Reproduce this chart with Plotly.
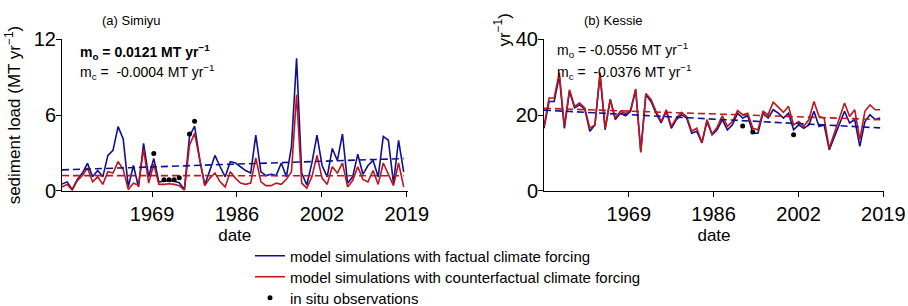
import plotly.graph_objects as go

# ---------------- data ----------------
years_simiyu = list(range(1951, 2019))   # 68 annual values
years_kessie = list(range(1952, 2019))   # 67 annual values

simiyu_factual = [0.53, 0.7, 0.1, 0.9, 1.4, 2.17, 1.1, 1.6, 1.1, 2.8,
                  3.2, 5.08, 4.1, 0.3, 2.0, 0.3, 3.75, 1.1, 2.55, 0.7,
                  0.75, 0.8, 0.75, 0.63, 0.1, 4.3, 5.13, 2.5, 0.45, 1.6,
                  2.8, 1.9, 1.1, 2.3, 2.2, 1.9, 1.6, 1.4, 4.4, 1.5,
                  1.2, 1.3, 1.2, 2.2, 1.1, 3.5, 10.5, 1.4, 0.45, 2.2,
                  4.4, 2.0, 1.1, 3.35, 2.4, 4.5, 0.6, 1.1, 2.9, 1.3,
                  2.0, 2.4, 1.1, 4.3, 4.0, 0.6, 4.0, 1.5]
simiyu_counterfactual = [0.3, 0.5, 0.05, 0.8, 1.2, 1.8, 0.7, 1.1, 0.5, 1.5,
                         1.4, 2.3, 1.7, 0.1, 0.6, 0.45, 3.3, 0.6, 2.1, 0.5,
                         0.5, 0.55, 0.5, 0.4, 0.05, 3.6, 4.55, 2.4, 0.4, 1.0,
                         1.4, 0.7, 0.3, 1.5, 1.0, 0.6, 0.5, 0.6, 2.6, 0.7,
                         0.4, 0.4, 0.6, 0.5, 0.9, 1.5, 7.6, 0.6, 0.2, 1.1,
                         2.8, 1.0, 0.5, 1.9, 1.4, 2.2, 0.3, 0.8, 1.9, 0.9,
                         0.7, 1.6, 0.5, 2.2, 1.3, 0.4, 2.2, 0.3]
simiyu_obs_years = [1969, 1971, 1972, 1973, 1974, 1976, 1977]
simiyu_obs = [2.95, 0.87, 0.87, 0.87, 1.03, 4.5, 5.5]
simiyu_trend_years = [1951, 2018]
simiyu_trend_factual = [1.65, 2.55]
simiyu_trend_counterfactual = [1.2, 1.18]

kessie_factual = [16.5, 23.6, 23.6, 30.3, 16.5, 26.3, 21.9, 22.7, 21.6, 15.7,
                  17.4, 30.7, 16.1, 24.1, 18.8, 20.5, 19.8, 21.0, 26.7, 10.4,
                  25.4, 23.6, 20.5, 17.9, 21.0, 16.5, 18.8, 20.1, 19.2, 15.2,
                  15.7, 12.6, 18.3, 14.8, 16.1, 18.8, 16.1, 17.4, 20.5, 19.2,
                  19.8, 15.2, 15.2, 20.5, 19.2, 21.4, 20.5, 19.2, 20.5, 16.1,
                  17.4, 16.5, 17.4, 21.0, 17.0, 17.4, 10.8, 14.3, 17.4, 21.0,
                  17.9, 18.8, 11.7, 18.3, 20.1, 18.8, 19.2]
kessie_counterfactual = [17.0, 24.5, 24.5, 31.2, 17.0, 26.7, 22.3, 23.2, 21.9, 16.5,
                         17.4, 31.2, 16.5, 24.2, 19.2, 21.0, 20.4, 21.4, 26.9, 10.1,
                         25.7, 24.1, 21.0, 18.3, 21.4, 17.0, 19.2, 20.7, 19.6, 15.7,
                         16.5, 12.7, 18.8, 15.0, 16.8, 19.8, 17.0, 18.3, 21.2, 20.1,
                         20.5, 16.5, 16.1, 21.0, 20.1, 23.4, 22.1, 20.7, 22.3, 17.4,
                         18.3, 17.0, 18.8, 23.6, 19.6, 19.2, 11.2, 15.2, 19.2, 23.2,
                         19.6, 21.4, 13.5, 21.0, 22.7, 21.4, 21.4]
kessie_obs_years = [1991, 1993, 2001]
kessie_obs = [17.1, 15.5, 14.8]
kessie_trend_years = [1952, 2018]
kessie_trend_factual = [21.3, 16.6]
kessie_trend_counterfactual = [21.8, 18.8]

tick_positions = [1968.65, 1985.3, 2001.98, 2018.62]
tick_labels = ["1969", "1986", "2002", "2019"]
simiyu_yticks = [0, 6, 12]
kessie_yticks = [0, 20, 40]

legend_names = ["model simulations with factual climate forcing",
                "model simulations with counterfactual climate forcing",
                "in situ observations"]

# ---------------- style ----------------
W, H = 908, 306
BLUE = "#10108f"
RED = "#c0141c"
FONT = "Liberation Sans, Arial, sans-serif"


def px(x):
    return x / W


def py(y):
    return 1 - y / H


fig = go.Figure()

panels = [
    ("x", "y", years_simiyu, simiyu_factual, simiyu_counterfactual,
     simiyu_obs_years, simiyu_obs, simiyu_trend_years,
     simiyu_trend_factual, simiyu_trend_counterfactual, True),
    ("x2", "y2", years_kessie, kessie_factual, kessie_counterfactual,
     kessie_obs_years, kessie_obs, kessie_trend_years,
     kessie_trend_factual, kessie_trend_counterfactual, False),
]

for (xa, ya, yrs, fac, cf, oy, ov, ty, tf, tc, show) in panels:
    fig.add_trace(go.Scatter(x=yrs, y=fac, mode="lines", xaxis=xa, yaxis=ya,
                             line=dict(color=BLUE, width=1.6),
                             name=legend_names[0], showlegend=show,
                             legend="legend"))
    fig.add_trace(go.Scatter(x=yrs, y=cf, mode="lines", xaxis=xa, yaxis=ya,
                             line=dict(color=RED, width=1.6),
                             name=legend_names[1], showlegend=show,
                             legend="legend2"))
    fig.add_trace(go.Scatter(x=ty, y=tf, mode="lines", xaxis=xa, yaxis=ya,
                             line=dict(color=BLUE, width=1.6, dash="7px,4px"),
                             showlegend=False, hoverinfo="skip"))
    fig.add_trace(go.Scatter(x=ty, y=tc, mode="lines", xaxis=xa, yaxis=ya,
                             line=dict(color=RED, width=1.6, dash="7px,4px"),
                             showlegend=False, hoverinfo="skip"))
    fig.add_trace(go.Scatter(x=oy, y=ov, mode="markers", xaxis=xa, yaxis=ya,
                             marker=dict(color="black", size=5),
                             name=legend_names[2], showlegend=show,
                             legend="legend3"))

axis_common = dict(showline=True, linecolor="black", linewidth=1,
                   ticks="outside", ticklen=5, tickwidth=1, tickcolor="black",
                   showgrid=False, zeroline=False, automargin=False,
                   tickfont=dict(size=20, color="black", family=FONT))

legend_common = dict(x=px(250), xanchor="left", yanchor="middle",
                     bgcolor="rgba(0,0,0,0)",
                     font=dict(size=15, color="black", family=FONT))

fig.update_layout(
    width=W, height=H,
    margin=dict(l=0, r=0, t=0, b=0, autoexpand=False),
    paper_bgcolor="white", plot_bgcolor="white",
    font=dict(family=FONT, color="black"),
    xaxis=dict(domain=[px(62), px(407.5)], range=[1951, 2018.75],
               tickvals=tick_positions, ticktext=tick_labels,
               title=dict(text="date", font=dict(size=17), standoff=5),
               anchor="y", **axis_common),
    yaxis=dict(domain=[py(190.7), py(39.4)], range=[0, 12],
               tickvals=simiyu_yticks, ticklabelstandoff=-4,
               title=dict(text="sediment load (MT yr<sup>−1</sup>)",
                          font=dict(size=17), standoff=8),
               anchor="x", **axis_common),
    xaxis2=dict(domain=[px(544), px(884)], range=[1952, 2018.75],
                tickvals=tick_positions, ticktext=tick_labels,
                title=dict(text="date", font=dict(size=17), standoff=5),
                anchor="y2", **axis_common),
    yaxis2=dict(domain=[py(190.7), py(39.4)], range=[0, 40],
                tickvals=kessie_yticks, ticklabelstandoff=-4,
                anchor="x2", **axis_common),
    showlegend=True,
    legend=dict(y=py(256), **legend_common),
    legend2=dict(y=py(277), **legend_common),
    legend3=dict(y=py(298), **legend_common),
)

annots = [
    dict(x=px(131), y=py(21), text="(a) Simiyu", size=13, xanchor="center"),
    dict(x=px(613), y=py(21), text="(b) Kessie", size=13, xanchor="center"),
    dict(x=px(78), y=py(52),
         text="<b>m<sub>o</sub> = 0.0121 MT yr<sup>−1</sup></b>",
         size=14, xanchor="left"),
    dict(x=px(78), y=py(72),
         text="m<sub>c</sub> = \u00a0-0.0004 MT yr<sup>−1</sup>",
         size=14, xanchor="left"),
    dict(x=px(555), y=py(50),
         text="m<sub>o</sub> = -0.0556 MT yr<sup>−1</sup>",
         size=14, xanchor="left"),
    dict(x=px(555), y=py(72),
         text="m<sub>c</sub> = \u00a0-0.0376 MT yr<sup>−1</sup>",
         size=14, xanchor="left"),
]
for a in annots:
    fig.add_annotation(x=a["x"], y=a["y"], xref="paper", yref="paper",
                       text=a["text"], showarrow=False,
                       xanchor=a["xanchor"], yanchor="middle",
                       font=dict(size=a["size"], color="black", family=FONT))

# fragment of the second panel's y label visible in the original
fig.add_annotation(x=px(503), y=py(12), xref="paper", yref="paper",
                   text="yr<sup>−1</sup>)", showarrow=False, textangle=-90,
                   xanchor="center", yanchor="top",
                   font=dict(size=17, color="black", family=FONT))

fig.write_html(
    "out.html",
    config={"displayModeBar": False},
    post_script="document.body.style.margin='0';"
                "document.body.style.overflow='hidden';",
)
